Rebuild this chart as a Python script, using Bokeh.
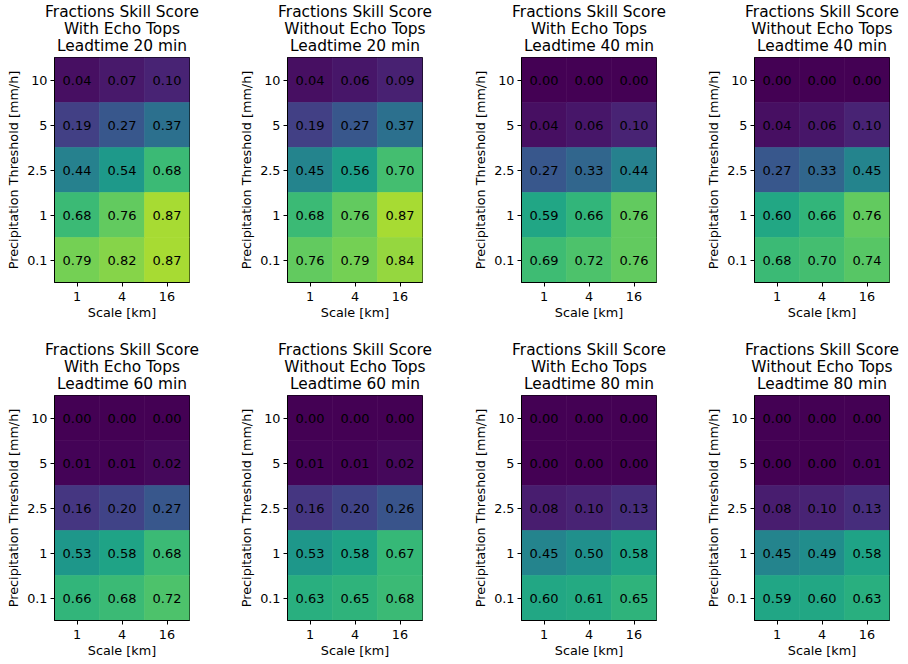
from bokeh.plotting import figure
from bokeh.layouts import row, column
from bokeh.models import ColumnDataSource, LinearColorMapper, Range1d
from bokeh.palettes import Viridis256
from bokeh.transform import transform
from bokeh.core.properties import value
from bokeh.embed import file_html
from bokeh.resources import INLINE

# ---- data (rows: thresholds from top to bottom; columns: scales) ----
scales = ["1", "4", "16"]
thresholds = ["10", "5", "2.5", "1", "0.1"]  # top to bottom

fss_with_20 = [[0.04, 0.07, 0.10],
               [0.19, 0.27, 0.37],
               [0.44, 0.54, 0.68],
               [0.68, 0.76, 0.87],
               [0.79, 0.82, 0.87]]
fss_without_20 = [[0.04, 0.06, 0.09],
                  [0.19, 0.27, 0.37],
                  [0.45, 0.56, 0.70],
                  [0.68, 0.76, 0.87],
                  [0.76, 0.79, 0.84]]
fss_with_40 = [[0.00, 0.00, 0.00],
               [0.04, 0.06, 0.10],
               [0.27, 0.33, 0.44],
               [0.59, 0.66, 0.76],
               [0.69, 0.72, 0.76]]
fss_without_40 = [[0.00, 0.00, 0.00],
                  [0.04, 0.06, 0.10],
                  [0.27, 0.33, 0.45],
                  [0.60, 0.66, 0.76],
                  [0.68, 0.70, 0.74]]
fss_with_60 = [[0.00, 0.00, 0.00],
               [0.01, 0.01, 0.02],
               [0.16, 0.20, 0.27],
               [0.53, 0.58, 0.68],
               [0.66, 0.68, 0.72]]
fss_without_60 = [[0.00, 0.00, 0.00],
                  [0.01, 0.01, 0.02],
                  [0.16, 0.20, 0.26],
                  [0.53, 0.58, 0.67],
                  [0.63, 0.65, 0.68]]
fss_with_80 = [[0.00, 0.00, 0.00],
               [0.00, 0.00, 0.00],
               [0.08, 0.10, 0.13],
               [0.45, 0.50, 0.58],
               [0.60, 0.61, 0.65]]
fss_without_80 = [[0.00, 0.00, 0.00],
                  [0.00, 0.00, 0.01],
                  [0.08, 0.10, 0.13],
                  [0.45, 0.49, 0.58],
                  [0.59, 0.60, 0.63]]

panel_variants = ["With Echo Tops", "Without Echo Tops"]
panels = [
    (fss_with_20, 0, 20), (fss_without_20, 1, 20), (fss_with_40, 0, 40), (fss_without_40, 1, 40),
    (fss_with_60, 0, 60), (fss_without_60, 1, 60), (fss_with_80, 0, 80), (fss_without_80, 1, 80),
]

FONT = "DejaVu Sans"
mapper = LinearColorMapper(palette=Viridis256, low=0.0, high=1.0)

widths = [233, 234, 233, 208]
row_bottom = [56, 44]
BORDER_LEFT = 54
FRAME_W = 135
FRAME_H = 225
TITLE_H = 57
TOTAL_W = sum(widths)
title_baselines = [11.7, 28.5, 45.3]  # px from top of title strip


def make_title_strip(panel_list):
    t = figure(width=TOTAL_W, height=TITLE_H, x_range=Range1d(0, TOTAL_W), y_range=Range1d(0, TITLE_H),
               min_border_left=0, min_border_right=0, min_border_top=0, min_border_bottom=0,
               toolbar_location=None, output_backend="svg", tools="")
    t.axis.visible = False
    t.xgrid.visible = False
    t.ygrid.visible = False
    t.outline_line_color = None
    t.background_fill_color = "white"
    t.border_fill_color = "white"
    xs, ys, texts = [], [], []
    left = 0
    for k, (data, variant, lead) in enumerate(panel_list):
        lines = ["Fractions Skill Score", panel_variants[variant], f"Leadtime {lead} min"]
        for txt, b in zip(lines, title_baselines):
            xs.append(left + BORDER_LEFT + FRAME_W / 2.0)
            ys.append(TITLE_H - b)
            texts.append(txt)
        left += widths[k]
    src = ColumnDataSource(dict(x=xs, y=ys, text=texts))
    t.text(x="x", y="y", text="text", source=src, text_align="center", text_baseline="alphabetic",
           text_font=value(FONT), text_font_size="15.4px", text_color="black")
    return t


def make_panel(data, variant, lead, col_idx, row_idx):
    xs, ys, vs, labels = [], [], [], []
    for i, thr in enumerate(thresholds):
        for j, sc in enumerate(scales):
            xs.append(sc)
            ys.append(thr)
            vs.append(data[i][j])
            labels.append(f"{data[i][j]:.2f}")
    src = ColumnDataSource(dict(x=xs, y=ys, v=vs, label=labels))
    w = widths[col_idx]
    p = figure(x_range=scales, y_range=list(reversed(thresholds)),
               frame_width=FRAME_W, frame_height=FRAME_H,
               min_border_left=BORDER_LEFT, min_border_right=w - BORDER_LEFT - FRAME_W,
               min_border_top=0, min_border_bottom=row_bottom[row_idx],
               toolbar_location=None, output_backend="svg", tools="")
    p.rect(x="x", y="y", width=1, height=1, source=src,
           fill_color=transform("v", mapper), line_color=transform("v", mapper), line_width=0.6)
    p.text(x="x", y="y", text="label", source=src, text_align="center", text_baseline="middle",
           text_font=value(FONT), text_font_size="13px", text_color="black")
    p.xgrid.visible = False
    p.ygrid.visible = False
    p.outline_line_color = "black"
    p.outline_line_width = 1
    p.outline_line_alpha = 1
    p.background_fill_color = "white"
    p.border_fill_color = "white"
    p.x_range.range_padding = 0
    p.y_range.range_padding = 0
    for ax in (p.xaxis[0], p.yaxis[0]):
        ax.axis_line_color = "black"
        ax.major_tick_line_color = "black"
        ax.major_tick_out = 4
        ax.major_tick_in = 0
        ax.minor_tick_line_color = None
        ax.major_label_text_font = FONT
        ax.major_label_text_font_size = "12.8px"
        ax.major_label_text_color = "black"
        ax.axis_label_text_font = FONT
        ax.axis_label_text_font_size = "12.8px"
        ax.axis_label_text_font_style = "normal"
        ax.axis_label_text_color = "black"
        ax.major_label_standoff = 3
        ax.axis_label_standoff = 3
    p.xaxis.major_label_standoff = 5
    p.xaxis.axis_label_standoff = 1
    p.xaxis.axis_label = "Scale [km]"
    p.yaxis.axis_label = "Precipitation Threshold [mm/h]"
    return p


figs = []
for k, (data, variant, lead) in enumerate(panels):
    figs.append(make_panel(data, variant, lead, k % 4, k // 4))

layout = column(
    make_title_strip(panels[:4]), row(*figs[:4]),
    make_title_strip(panels[4:]), row(*figs[4:]),
)
open("out.html", "w").write(file_html(layout, INLINE))
